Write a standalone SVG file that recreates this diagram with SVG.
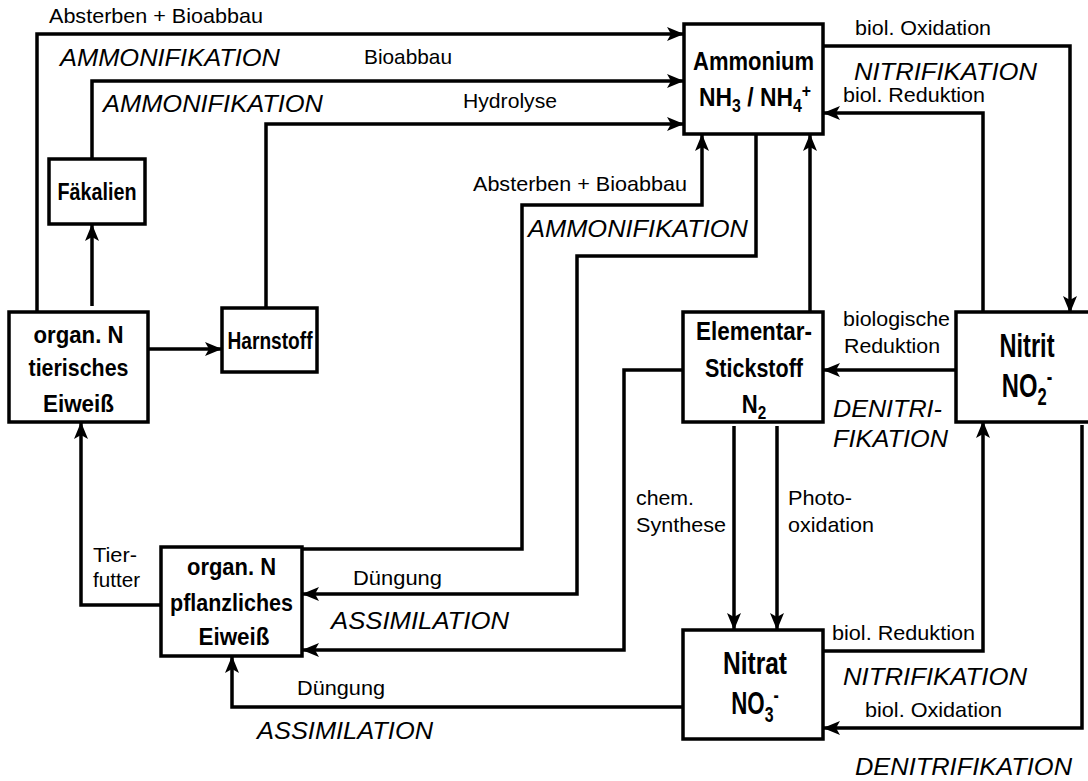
<svg xmlns="http://www.w3.org/2000/svg" width="1088" height="781" viewBox="0 0 1088 781">
<style>
.box{fill:#fff;stroke:#000;stroke-width:3.5}
.b{font-family:"Liberation Sans",Arial,sans-serif;font-weight:bold;fill:#000;text-anchor:middle}
.l{font-family:"Liberation Sans",Arial,sans-serif;font-size:21px;fill:#000}
.i{font-family:"Liberation Sans",Arial,sans-serif;font-size:23px;font-style:italic;fill:#000}
.c{fill:none;stroke:#000;stroke-width:3.5;stroke-linejoin:miter}
.a{marker-end:url(#ah)}
</style>
<defs>
<marker id="ah" markerUnits="userSpaceOnUse" markerWidth="18" markerHeight="14" refX="17" refY="7" orient="auto" viewBox="0 0 18 14">
<path d="M0,0 L17,7 L0,14 L4,7 z" fill="#000"/>
</marker>
</defs>
<rect width="1088" height="781" fill="#fff"/>

<g id="connectors">
<path class="c a" d="M37,314 V34 H684"/>
<path class="c a" d="M92,159 V81 H684"/>
<path class="c a" d="M266,308 V124 H684"/>
<path class="c a" d="M92,306 V224"/>
<path class="c a" d="M148,349 H222"/>
<path class="c a" d="M302,549 H522 V205 H702 V134"/>
<path class="c a" d="M756,134 V256 H577 V594 H302"/>
<path class="c a" d="M683,370 H624 V650 H302"/>
<path class="c a" d="M683,707 H232 V656"/>
<path class="c a" d="M161,605 H81 V422"/>
<path class="c a" d="M823,46 H1070 V313"/>
<path class="c a" d="M983,314 V113 H823"/>
<path class="c a" d="M810,314 V134"/>
<path class="c a" d="M956,370 H823"/>
<path class="c a" d="M734,426 V630"/>
<path class="c a" d="M777,426 V630"/>
<path class="c a" d="M823,651 H983 V421"/>
<path class="c a" d="M1082,425 V728 H823"/>
</g>

<g id="labels">
<text class="l" x="49" y="23" textLength="214" lengthAdjust="spacingAndGlyphs">Absterben + Bioabbau</text>
<text class="i" x="60" y="66" textLength="220" lengthAdjust="spacingAndGlyphs">AMMONIFIKATION</text>
<text class="l" x="364" y="64" textLength="88" lengthAdjust="spacingAndGlyphs">Bioabbau</text>
<text class="i" x="103" y="112" textLength="220" lengthAdjust="spacingAndGlyphs">AMMONIFIKATION</text>
<text class="l" x="463" y="108" textLength="94" lengthAdjust="spacingAndGlyphs">Hydrolyse</text>
<text class="l" x="473" y="191" textLength="214" lengthAdjust="spacingAndGlyphs">Absterben + Bioabbau</text>
<text class="i" x="528" y="237" textLength="220" lengthAdjust="spacingAndGlyphs">AMMONIFIKATION</text>
<text class="l" x="855" y="35" textLength="136" lengthAdjust="spacingAndGlyphs">biol. Oxidation</text>
<text class="i" x="854" y="80" textLength="183" lengthAdjust="spacingAndGlyphs">NITRIFIKATION</text>
<text class="l" x="843" y="102" textLength="142" lengthAdjust="spacingAndGlyphs">biol. Reduktion</text>
<text class="l" x="843" y="326" textLength="107" lengthAdjust="spacingAndGlyphs">biologische</text>
<text class="l" x="844" y="353" textLength="96" lengthAdjust="spacingAndGlyphs">Reduktion</text>
<text class="i" x="833" y="417" textLength="109" lengthAdjust="spacingAndGlyphs">DENITRI-</text>
<text class="i" x="833" y="447" textLength="115" lengthAdjust="spacingAndGlyphs">FIKATION</text>
<text class="l" x="636" y="505" textLength="58" lengthAdjust="spacingAndGlyphs">chem.</text>
<text class="l" x="636" y="532" textLength="90" lengthAdjust="spacingAndGlyphs">Synthese</text>
<text class="l" x="788" y="505" textLength="64" lengthAdjust="spacingAndGlyphs">Photo-</text>
<text class="l" x="788" y="532" textLength="86" lengthAdjust="spacingAndGlyphs">oxidation</text>
<text class="l" x="832" y="640" textLength="143" lengthAdjust="spacingAndGlyphs">biol. Reduktion</text>
<text class="i" x="843" y="685" textLength="184" lengthAdjust="spacingAndGlyphs">NITRIFIKATION</text>
<text class="l" x="865" y="717" textLength="137" lengthAdjust="spacingAndGlyphs">biol. Oxidation</text>
<text class="i" x="855" y="775" textLength="217" lengthAdjust="spacingAndGlyphs">DENITRIFIKATION</text>
<text class="l" x="353" y="585" textLength="89" lengthAdjust="spacingAndGlyphs">Düngung</text>
<text class="i" x="331" y="629" textLength="178" lengthAdjust="spacingAndGlyphs">ASSIMILATION</text>
<text class="l" x="93" y="562" textLength="44" lengthAdjust="spacingAndGlyphs">Tier-</text>
<text class="l" x="93" y="587" textLength="47" lengthAdjust="spacingAndGlyphs">futter</text>
<text class="l" x="297" y="695" textLength="88" lengthAdjust="spacingAndGlyphs">Düngung</text>
<text class="i" x="257" y="739" textLength="176" lengthAdjust="spacingAndGlyphs">ASSIMILATION</text>
</g>

<g id="ammonium">
<rect class="box" x="684" y="24" width="139" height="110"/>
<text class="b" x="753.5" y="70" font-size="26" textLength="121" lengthAdjust="spacingAndGlyphs">Ammonium</text>
<text class="b" transform="translate(755,106) scale(0.88,1)" font-size="26">NH<tspan font-size="18" dy="6">3</tspan><tspan dy="-6"> / NH</tspan><tspan font-size="18" dy="6">4</tspan><tspan font-size="18" dy="-15">+</tspan></text>
</g>

<g id="faekalien">
<rect class="box" x="49" y="159" width="96" height="65"/>
<text class="b" x="97" y="200" font-size="23" textLength="79" lengthAdjust="spacingAndGlyphs">Fäkalien</text>
</g>

<g id="tierisch">
<rect class="box" x="9" y="312" width="139" height="110"/>
<text class="b" x="78.5" y="343" font-size="24" textLength="90" lengthAdjust="spacingAndGlyphs">organ. N</text>
<text class="b" x="78.5" y="376" font-size="24" textLength="100" lengthAdjust="spacingAndGlyphs">tierisches</text>
<text class="b" x="78.5" y="412" font-size="24" textLength="71" lengthAdjust="spacingAndGlyphs">Eiweiß</text>
</g>

<g id="harnstoff">
<rect class="box" x="222" y="308" width="95" height="64"/>
<text class="b" x="270" y="349" font-size="24" textLength="85" lengthAdjust="spacingAndGlyphs">Harnstoff</text>
</g>

<g id="elementar">
<rect class="box" x="683" y="312" width="140" height="110"/>
<text class="b" x="754" y="340" font-size="26" textLength="116" lengthAdjust="spacingAndGlyphs">Elementar-</text>
<text class="b" x="754" y="377" font-size="26" textLength="98" lengthAdjust="spacingAndGlyphs">Stickstoff</text>
<text class="b" transform="translate(754,413) scale(0.85,1)" font-size="26">N<tspan font-size="18" dy="6">2</tspan></text>
</g>

<g id="nitrit">
<rect class="box" x="956" y="312" width="150" height="110"/>
<text class="b" x="1027" y="357" font-size="33" textLength="55" lengthAdjust="spacingAndGlyphs">Nitrit</text>
<text class="b" transform="translate(1027,397) scale(0.72,1)" font-size="33">NO<tspan font-size="23" dy="8">2</tspan><tspan font-size="23" dy="-20">-</tspan></text>
</g>

<g id="nitrat">
<rect class="box" x="683" y="630" width="140" height="109"/>
<text class="b" x="755" y="674" font-size="31" textLength="64" lengthAdjust="spacingAndGlyphs">Nitrat</text>
<text class="b" transform="translate(755,714) scale(0.72,1)" font-size="31">NO<tspan font-size="22" dy="8">3</tspan><tspan font-size="22" dy="-20">-</tspan></text>
</g>

<g id="pflanzlich">
<rect class="box" x="161" y="547" width="141" height="109"/>
<text class="b" x="231.5" y="575" font-size="24" textLength="89" lengthAdjust="spacingAndGlyphs">organ. N</text>
<text class="b" x="231.5" y="611" font-size="24" textLength="123" lengthAdjust="spacingAndGlyphs">pflanzliches</text>
<text class="b" x="234" y="645" font-size="24" textLength="71" lengthAdjust="spacingAndGlyphs">Eiweiß</text>
</g>
</svg>
